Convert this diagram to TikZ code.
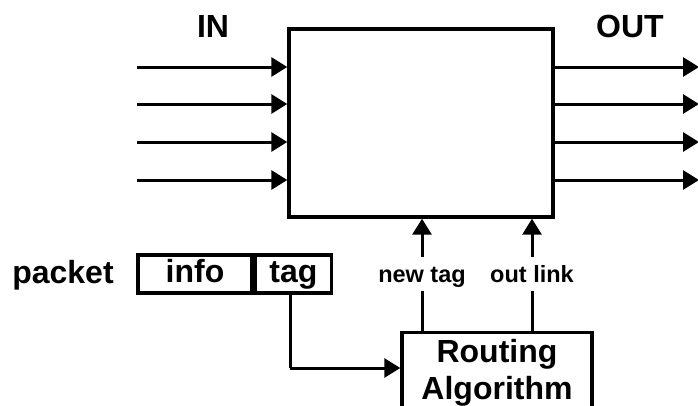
\documentclass[tikz,border=0pt]{standalone}
\usepackage{fontspec}
\setmainfont{Liberation Sans}
\usetikzlibrary{arrows.meta}
\begin{document}
\begin{tikzpicture}[x=1pt,y=-1pt,
  big/.style={font=\fontsize{32}{37}\selectfont\bfseries},
  small/.style={font=\fontsize{23.5}{27}\selectfont\bfseries},
  frame/.style={draw,line width=3.4pt,inner sep=0pt},
  cell/.style={frame,big,minimum height=38pt,text height=23pt,text depth=7pt},
  link/.style={line width=3pt,-{Triangle[length=16pt,width=19pt]}},
  wire/.style={line width=3pt}]
\useasboundingbox (0,0) rectangle (698,405);
\clip (0,0) rectangle (698,405);
% switch fabric
\node[frame,minimum width=264pt,minimum height=188pt] (sw) at (421,123) {};
\node[big,anchor=base] (inlbl) at (213,37) {IN};
\node[big,anchor=base] (outlbl) at (630,37) {OUT};
% input and output links
\foreach \i/\y in {1/67,2/104,3/142,4/180}{
  \coordinate (in\i) at (137,\y);
  \coordinate (out\i) at (699,\y);
  \draw[link] (in\i) -- (sw.west |- in\i);
  \draw[link] (sw.east |- out\i) -- (out\i);
}
% packet header
\node[big,anchor=base] (pk) at (63,283) {packet};
\node[cell,minimum width=114pt] (info) at (195,274) {info};
\node[cell,minimum width=76pt,anchor=west] (tag) at (info.east) {tag};
% routing algorithm block
\node[frame,minimum width=190pt,anchor=north,align=center,
  font=\fontsize{32}{37}\selectfont\bfseries,inner ysep=7pt] (ra) at (497,331)
  {Routing\\Algorithm};
\coordinate (tagdrop) at (290,368);
\draw[wire] (tag.south -| tagdrop) -- (tagdrop);
\draw[link] (tagdrop) -- (ra.west |- tagdrop);
% control outputs
\coordinate (nt) at (422,331);
\coordinate (ol) at (532,331);
\draw[link] (nt) -- (nt |- sw.south);
\draw[link] (ol) -- (ol |- sw.south);
\node[small,fill=white,inner sep=1pt,anchor=base,text height=24pt,text depth=8pt] (ntl) at (422,282) {new tag};
\node[small,fill=white,inner sep=1pt,anchor=base,text height=24pt,text depth=8pt] (oll) at (532,282) {out link};
\end{tikzpicture}
\end{document}
